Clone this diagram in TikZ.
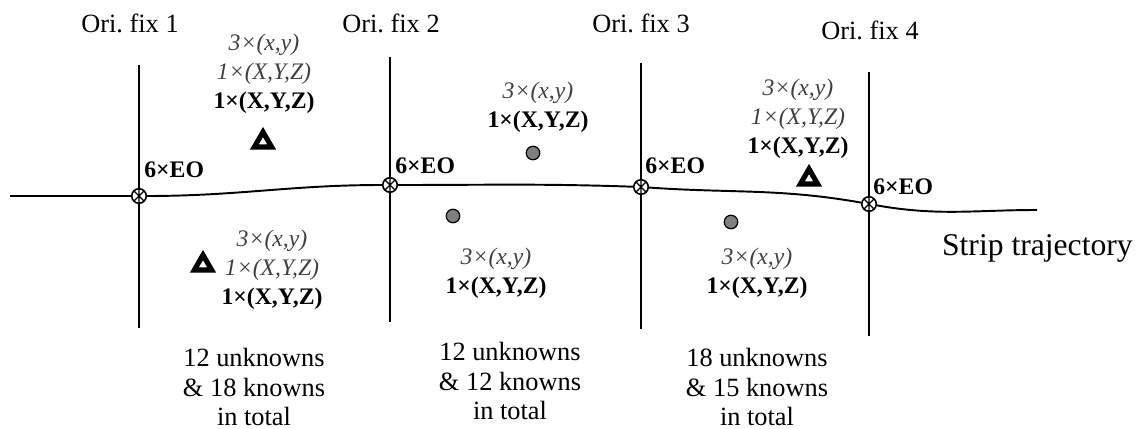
\documentclass[tikz,border=0pt]{standalone}
\usepackage{fontspec}
\setmainfont{Liberation Serif}
\usetikzlibrary{shapes.geometric}
\frenchspacing

\newcommand{\imgxy}{\textcolor{black!75}{\itshape 3×(x,y)}}
\newcommand{\tiexyz}{\textcolor{black!75}{\itshape 1×(X,Y,Z)}}
\newcommand{\gcpxyz}{\textbf{1×(X,Y,Z)}}

\tikzset{
  fixline/.style={line width=0.6pt},
  traj/.style={line width=1.1pt},
  fixmark/.style={circle,draw,fill=white,line width=0.9pt,minimum size=0.29cm,inner sep=0pt,
    path picture={\draw[line width=0.7pt]
      (path picture bounding box.north west) -- (path picture bounding box.south east)
      (path picture bounding box.north east) -- (path picture bounding box.south west)
      (path picture bounding box.north) -- (path picture bounding box.south);}},
  fixlabel/.style={font=\fontsize{15}{17}\selectfont,inner sep=0pt},
  eolabel/.style={font=\fontsize{13.5}{15}\selectfont\bfseries,inner sep=0pt,anchor=base west},
  obslabel/.style={align=center,font=\fontsize{13.5}{16.4}\selectfont,inner sep=0pt},
  tally/.style={align=center,font=\fontsize{15}{17}\selectfont,inner sep=0pt},
  gcpdot/.style={circle,draw,fill=gray,line width=0.7pt,minimum size=0.27cm,inner sep=0pt},
  tiept/.style={regular polygon,regular polygon sides=3,draw,line width=2.9pt,
    minimum size=0.40cm,inner sep=0pt}
}

\begin{document}
\begin{tikzpicture}[x=0.02cm,y=-0.02cm]
  \useasboundingbox (0,0) rectangle (1142,429);
  % orientation fixes
  \foreach \n/\x/\t/\b in {1/139/65/328,2/390/57/322,3/641/63/329,4/869/72/336} {
      \coordinate (t\n) at (\x,\t);
      \coordinate (b\n) at (\x,\b);
      \draw[fixline] (t\n) -- (b\n);
    }
  \foreach \n/\x/\y in {1/130/23,2/391/23,3/641/23,4/870/30} {
      \node[fixlabel] (ori\n) at (\x,\y) {Ori. fix \n};
    }
  % strip trajectory
  \coordinate (s0) at (10,196);
  \coordinate (s5) at (1037,210);
  \node[fixmark] (f1) at (139,196) {};
  \node[fixmark] (f2) at (390,185) {};
  \node[fixmark] (f3) at (641,187) {};
  \node[fixmark] (f4) at (869,204) {};
  \draw[traj] (s0) -- (f1) to[out=0,in=180] (f2) to[out=0,in=178] (f3)
    to[out=-4,in=170] (f4) to[out=-10,in=180] (s5);
  \foreach \n/\x/\y in {1/144/177,2/395/173,3/645/173,4/873/194} {
      \node[eolabel] (eo\n) at (\x,\y) {6×EO};
    }
  \node[anchor=base east,font=\fontsize{18}{20}\selectfont,inner sep=0pt] (strip) at (1133,255) {Strip trajectory};
  % tie and control points
  \node[tiept] (tp1) at (263,142) {};
  \node[tiept] (tp2) at (203,265) {};
  \node[tiept] (tp3) at (809,179) {};
  \node[gcpdot] (cp1) at (533,153) {};
  \node[gcpdot] (cp2) at (453,216) {};
  \node[gcpdot] (cp3) at (731,222) {};
  \node[obslabel] (ob1) at (264,74) {\imgxy\\\tiexyz\\\gcpxyz};
  \node[obslabel] (ob2) at (272,270) {\imgxy\\\tiexyz\\\gcpxyz};
  \node[obslabel] (ob3) at (538,107) {\imgxy\\\gcpxyz};
  \node[obslabel] (ob4) at (496,273) {\imgxy\\\gcpxyz};
  \node[obslabel] (ob5) at (798,119) {\imgxy\\\tiexyz\\\gcpxyz};
  \node[obslabel] (ob6) at (757,273) {\imgxy\\\gcpxyz};
  % counts per model
  \node[tally] (sum1) at (254,387) {12 unknowns\\\& 18 knowns\\in total};
  \node[tally] (sum2) at (510,381) {12 unknowns\\\& 12 knowns\\in total};
  \node[tally] (sum3) at (757,387) {18 unknowns\\\& 15 knowns\\in total};
\end{tikzpicture}
\end{document}
